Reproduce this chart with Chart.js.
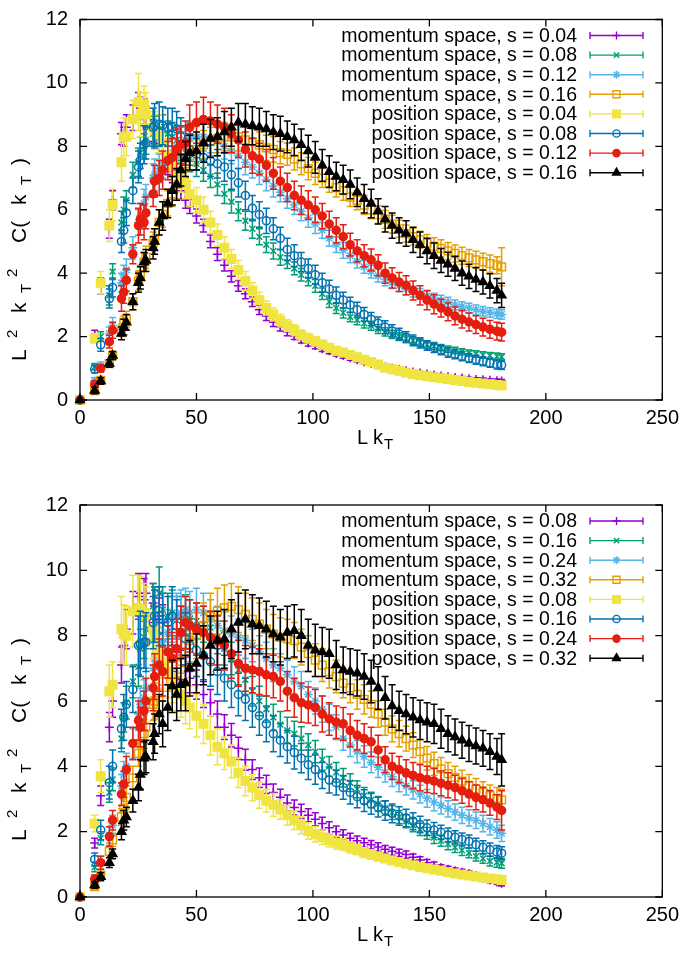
<!DOCTYPE html>
<html><head><meta charset="utf-8">
<script src="https://cdn.jsdelivr.net/npm/chart.js@4.4.0/dist/chart.umd.min.js"></script>
<style>
body{margin:0;background:#fff;width:685px;height:956px;position:relative;overflow:hidden}
.w{position:absolute;left:0;width:685px;height:478px}
</style></head><body>
<div class="w" style="top:0"><canvas id="c1" width="685" height="478"></canvas></div>
<div class="w" style="top:478px"><canvas id="c2" width="685" height="478"></canvas></div>
<script>
// ---- shared x positions (L kT) ----
const kT = [0,6.3,8.9,12.6,14.0,17.8,18.8,19.9,22.7,25.1,25.9,27.5,28.3,31.4,32.0,34.0,35.5,37.7,39.6,41.5,43.3,45.3,47.1,
 50,53,56,59,62,65,68,71,74,77,
 80,83,86,89,92,95,98,101,104,107,
 110,113,116,119,122,125,128,131,134,137,
 140,143,146,149,152,155,158,161,164,167,
 170,173,176,179,181];
const xTickValues = [0,50,100,150,200,250];
const yTickValues = [0,2,4,6,8,10,12];

const labels1 = ['momentum space, s = 0.04','momentum space, s = 0.08','momentum space, s = 0.12','momentum space, s = 0.16',
 'position space, s = 0.04','position space, s = 0.08','position space, s = 0.12','position space, s = 0.16'];
const labels2 = ['momentum space, s = 0.08','momentum space, s = 0.16','momentum space, s = 0.24','momentum space, s = 0.32',
 'position space, s = 0.08','position space, s = 0.16','position space, s = 0.24','position space, s = 0.32'];

// ---- panel 1 values ----
const mom04_p1 = [0,2.05,3.6,5.4,6.3,8.4,8.3,8.6,8.9,9.3,9.2,9.1,8.9,8.5,8.4,8.1,7.8,7.4,7.1,6.8,6.6,6.3,6.1,
 5.8,5.5,5.0,4.6,4.25,3.9,3.6,3.35,3.1,2.85, 2.65,2.45,2.3,2.15,2.02,1.9,1.8,1.72,1.62,1.55,
 1.47,1.4,1.33,1.27,1.21,1.16,1.1,1.04,1.0,0.96, 0.92,0.88,0.85,0.82,0.79,0.76,0.73,0.71,0.69,0.67, 0.65,0.64,0.62,0.61,0.6];
const mom08_p1 = [0,1.05,2.0,3.3,4.05,5.6,6.0,6.3,7.1,7.5,7.8,8.0,8.2,8.4,8.5,8.6,8.5,8.4,8.3,8.2,8.0,7.8,7.6,
 7.45,7.25,7.05,6.8,6.5,6.25,5.95,5.65,5.4,5.15, 4.9,4.7,4.5,4.35,4.15,3.95,3.8,3.6,3.35,3.1,
 2.9,2.75,2.62,2.52,2.42,2.34,2.24,2.15,2.07,2.0, 1.93,1.87,1.81,1.75,1.7,1.65,1.6,1.56,1.52,1.48, 1.45,1.42,1.4,1.38,1.36];
const mom12_p1 = [0,0.6,1.05,2.1,2.35,3.7,3.95,4.1,4.8,5.6,5.8,6.2,6.4,7.0,7.1,7.3,7.5,7.7,7.8,8.0,8.1,8.2,8.25,
 8.3,8.3,8.25,8.15,8.0,7.85,7.7,7.5,7.35,7.15, 6.95,6.75,6.55,6.35,6.15,5.95,5.75,5.55,5.35,5.1,
 4.9,4.72,4.55,4.38,4.2,4.05,3.92,3.8,3.7,3.6, 3.5,3.42,3.35,3.28,3.21,3.15,3.09,3.0,2.95,2.9, 2.85,2.8,2.76,2.72,2.7];
const mom16_p1 = [0,0.3,0.62,1.15,1.4,2.2,2.45,2.55,3.1,3.75,3.95,4.35,4.5,4.95,5.05,5.6,5.85,6.2,6.5,6.8,7.2,7.45,7.7,
 7.9,8.05,8.15,8.25,8.3,8.3,8.3,8.2,8.15,8.05, 7.95,7.9,7.8,7.75,7.6,7.45,7.3,7.15,7.0,6.85,
 6.7,6.6,6.4,6.3,6.15,6.0,5.85,5.7,5.55,5.4, 5.25,5.15,5.05,4.95,4.85,4.78,4.7,4.62,4.55,4.48, 4.42,4.36,4.3,4.25,4.2];
const pos04_p1 = [0,1.95,3.7,5.5,6.15,7.5,8.3,8.3,8.85,9.4,9.0,9.3,9.0,8.6,8.5,8.4,8.1,7.7,7.4,7.2,7.0,6.8,6.5,
 6.3,6.0,5.6,5.2,4.8,4.45,4.1,3.75,3.45,3.15, 2.9,2.7,2.5,2.35,2.2,2.05,1.95,1.85,1.75,1.65,
 1.55,1.5,1.42,1.35,1.27,1.2,1.12,1.02,0.97,0.92, 0.86,0.82,0.78,0.75,0.72,0.69,0.66,0.63,0.6,0.57, 0.54,0.52,0.5,0.47,0.46];
const pos08_p1 = [0,0.97,1.74,3.2,3.55,5.0,5.35,5.9,6.6,7.35,7.55,8.05,8.1,8.6,8.65,8.7,8.65,8.6,8.6,8.55,8.3,8.1,7.9,
 7.75,7.65,7.55,7.45,7.35,7.1,6.85,6.45,6.05,5.85, 5.65,5.4,5.1,4.75,4.55,4.35,4.15,3.95,3.7,3.5,
 3.3,3.15,3.0,2.85,2.7,2.55,2.42,2.3,2.18,2.08, 1.98,1.88,1.8,1.72,1.65,1.58,1.5,1.44,1.38,1.32, 1.27,1.22,1.17,1.12,1.1];
const pos12_p1 = [0,0.5,1.0,1.84,2.2,3.2,3.4,3.78,4.6,5.5,5.7,5.6,5.9,6.5,6.9,7.0,7.25,7.55,7.65,7.9,8.05,8.1,8.6,
 8.75,8.85,8.8,8.7,8.6,8.4,8.2,7.9,7.7,7.6, 7.4,7.15,6.9,6.7,6.45,6.3,6.15,6.0,5.8,5.55,
 5.35,5.15,4.9,4.7,4.55,4.42,4.25,4.0,3.85,3.72, 3.62,3.45,3.3,3.15,3.02,2.9,2.78,2.65,2.55,2.46, 2.38,2.3,2.23,2.17,2.14];
const pos16_p1 = [0,0.3,0.6,1.15,1.4,2.1,2.3,2.45,3.1,3.7,3.85,4.35,4.4,4.8,5.0,5.6,5.8,6.2,6.6,6.8,7.25,7.6,7.8,
 7.85,8.1,8.25,8.3,8.45,8.6,8.75,8.7,8.65,8.6, 8.55,8.45,8.4,8.3,8.2,8.05,7.85,7.65,7.4,7.2,
 7.05,6.95,6.8,6.55,6.35,6.2,5.95,5.7,5.5,5.35, 5.25,5.05,4.9,4.7,4.55,4.4,4.28,4.15,4.0,3.9, 3.8,3.72,3.6,3.45,3.3];

// ---- panel 1 error bars (half lengths) ----
const mom04_p1_err = [0,.15,.25,.3,.3,.35,.3,.4,.4,.4,.35,.4,.35,.35,.3,.3,.3,.3,.25,.25,.25,.25,.22,
 .22,.2,.2,.2,.18,.18,.17,.16,.15,.15, .14,.13,.12,.12,.11,.1,.1,.1,.09,.09,
 .08,.08,.08,.07,.07,.07,.07,.06,.06,.06, .06,.05,.05,.05,.05,.05,.05,.05,.05,.05, .05,.05,.05,.05,.05];
const mom08_p1_err = [0,.1,.15,.3,.25,.35,.4,.3,.4,.45,.5,.4,.45,.4,.45,.4,.5,.4,.45,.4,.45,.4,.4,
 .4,.35,.35,.35,.3,.35,.3,.3,.3,.25, .25,.25,.25,.2,.2,.2,.2,.2,.18,.18,
 .17,.16,.15,.15,.15,.14,.14,.13,.13,.12, .12,.12,.11,.11,.11,.1,.1,.1,.1,.1, .1,.1,.1,.1,.1];
const mom12_p1_err = [0,.1,.15,.2,.25,.3,.3,.35,.35,.4,.4,.45,.4,.45,.5,.45,.5,.5,.45,.5,.5,.45,.5,
 .5,.45,.45,.45,.4,.4,.4,.4,.35,.35, .35,.35,.3,.3,.3,.3,.3,.3,.25,.25,
 .25,.25,.22,.22,.2,.2,.2,.2,.18,.18, .18,.17,.17,.16,.16,.15,.15,.15,.15,.15, .15,.15,.15,.15,.15];
const mom16_p1_err = [0,.1,.1,.12,.15,.2,.2,.25,.25,.3,.3,.3,.35,.35,.35,.4,.4,.4,.4,.45,.45,.45,.45,
 .45,.45,.45,.45,.45,.4,.45,.4,.4,.4, .4,.4,.35,.35,.35,.35,.35,.35,.3,.3,
 .3,.3,.3,.3,.3,.28,.28,.28,.28,.27, .27,.27,.27,.27,.27,.27,.27,.27,.27,.27, .27,.27,.27,.27,.6];
const pos04_p1_err = [0,.15,.35,.5,.5,.6,.6,.6,.6,.9,.7,.6,.7,.6,.6,.6,.55,.55,.5,.5,.45,.45,.4,
 .4,.4,.35,.35,.35,.3,.3,.3,.25,.25, .22,.2,.2,.18,.17,.16,.15,.14,.13,.12,
 .12,.11,.1,.1,.1,.09,.09,.08,.08,.08, .07,.07,.07,.07,.06,.06,.06,.06,.06,.06, .06,.06,.06,.06,.06];
const pos08_p1_err = [0,.12,.2,.3,.3,.35,.4,.4,.4,.5,.55,.6,.5,.6,.7,.7,.6,.6,.6,.55,.6,.55,.5,
 .5,.5,.5,.45,.45,.45,.45,.45,.4,.4, .4,.35,.35,.35,.35,.3,.3,.3,.3,.28,
 .26,.25,.24,.23,.22,.21,.2,.2,.19,.18, .17,.17,.16,.15,.15,.15,.15,.14,.14,.14, .14,.14,.14,.14,.14];
const pos12_p1_err = [0,.1,.12,.2,.25,.4,.35,.35,.3,.55,.5,.55,.5,.4,.5,.55,.6,.6,.6,.65,.6,.7,.7,
 .65,.7,.6,.6,.6,.6,.55,.55,.55,.5, .5,.5,.45,.45,.45,.45,.45,.4,.4,.4,
 .4,.38,.36,.35,.35,.34,.33,.32,.32,.3, .3,.3,.3,.3,.3,.28,.28,.28,.28,.28, .28,.28,.28,.28,.28];
const pos16_p1_err = [0,.1,.1,.12,.12,.2,.25,.25,.25,.3,.35,.3,.35,.35,.4,.4,.45,.45,.45,.5,.5,.55,.55,
 .6,.6,.6,.6,.65,.6,.6,.65,.6,.6, .55,.55,.55,.5,.5,.5,.5,.5,.5,.5,
 .45,.45,.45,.45,.45,.45,.4,.4,.4,.4, .4,.4,.4,.4,.4,.38,.38,.38,.38,.38, .38,.38,.38,.38,.38];

// ---- panel 2 values ----
const mom08_p2 = [0,1.65,3.1,5.2,6.0,7.1,7.7,8.2,8.7,9.2,9.3,9.1,9.3,9.0,8.9,8.6,8.4,8.0,7.7,7.4,7.1,6.9,6.7,
 6.5,6.2,5.95,5.6,5.2,4.95,4.55,4.2,3.9,3.65, 3.45,3.2,3.05,2.88,2.74,2.62,2.5,2.38,2.25,2.12,
 2.0,1.9,1.8,1.72,1.66,1.6,1.53,1.46,1.4,1.35, 1.3,1.22,1.13,1.05,0.97,0.9,0.85,0.8,0.76,0.72, 0.65,0.58,0.52,0.46,0.42];
const mom16_p2 = [0,0.92,1.8,3.2,3.6,4.85,5.5,5.95,6.6,7.05,7.6,7.95,8.2,8.9,8.8,9.3,8.8,8.6,8.7,8.6,8.6,8.65,8.5,
 8.45,8.35,8.25,7.95,7.6,7.3,6.95,6.65,6.3,6.0, 5.75,5.5,5.28,5.1,5.0,4.85,4.65,4.45,4.2,4.0,
 3.82,3.65,3.5,3.3,3.1,2.97,2.85,2.72,2.58,2.45, 2.32,2.2,2.07,1.95,1.82,1.72,1.62,1.52,1.43,1.35, 1.25,1.18,1.1,1.06,1.03];
const mom24_p2 = [0,0.55,1.05,1.9,2.2,3.4,3.75,4.0,4.7,5.6,5.9,6.1,6.4,7.0,7.3,7.6,7.8,8.1,8.5,8.6,8.7,8.8,8.7,
 8.8,8.7,8.5,8.3,8.15,8.05,7.95,7.85,7.7,7.5, 7.3,7.1,7.0,6.8,6.6,6.45,6.2,6.0,5.75,5.5,
 5.2,4.85,4.65,4.45,4.3,4.12,3.97,3.82,3.68,3.52, 3.4,3.28,3.15,3.02,2.9,2.8,2.7,2.6,2.5,2.42, 2.35,2.25,2.15,2.05,1.95];
const mom32_p2 = [0,0.32,0.67,1.4,1.75,2.45,2.7,3.05,3.65,4.4,4.7,5.0,5.2,5.9,6.0,6.25,6.6,6.9,7.1,7.35,7.5,7.7,7.85,
 8.0,8.3,8.6,8.75,8.85,8.9,8.8,8.65,8.5,8.35, 8.2,8.05,7.95,7.9,7.85,7.65,7.45,7.25,7.1,6.9,
 6.75,6.55,6.4,6.2,6.05,5.9,5.6,5.35,5.15,5.0, 4.85,4.65,4.45,4.25,4.08,3.92,3.78,3.66,3.55,3.42, 3.3,3.2,3.1,3.02,2.97];
const pos08_p2 = [0,2.25,3.7,6.3,6.5,8.2,8.05,8.0,8.75,8.85,8.8,8.7,8.6,8.2,7.9,7.5,7.2,6.9,6.7,6.4,6.2,6.0,5.8,
 5.55,5.3,4.95,4.6,4.4,4.15,3.8,3.55,3.35,3.12, 2.95,2.82,2.68,2.5,2.35,2.2,2.02,1.92,1.83,1.74,
 1.66,1.6,1.52,1.45,1.36,1.3,1.24,1.18,1.12,1.07, 1.02,0.97,0.92,0.88,0.84,0.8,0.76,0.72,0.69,0.66, 0.63,0.6,0.57,0.54,0.52];
const pos16_p2 = [0,1.15,2.05,3.5,4.0,5.15,5.5,5.9,6.35,7.7,7.75,7.8,7.8,8.4,8.6,8.6,8.5,8.4,8.6,8.3,8.1,7.9,7.7,
 7.55,7.4,7.2,6.9,6.7,6.5,6.2,6.05,5.8,5.55, 5.3,5.0,4.8,4.6,4.42,4.25,4.05,3.9,3.72,3.58,
 3.5,3.35,3.2,3.07,2.95,2.85,2.75,2.65,2.56,2.48, 2.42,2.32,2.22,2.12,2.05,1.98,1.9,1.83,1.76,1.7, 1.6,1.52,1.45,1.38,1.34];
const pos24_p2 = [0,0.55,1.05,1.85,2.35,3.15,3.45,3.9,4.7,5.4,5.2,5.7,6.0,6.4,6.75,7.1,6.9,7.5,7.3,7.6,8.1,8.4,8.3,
 8.2,8.1,7.95,7.85,7.7,7.45,7.15,7.0,6.95,6.9, 6.8,6.75,6.6,6.3,6.1,5.95,5.88,5.8,5.6,5.45,
 5.35,5.3,5.1,4.95,4.85,4.75,4.5,4.2,4.0,3.9, 3.8,3.72,3.65,3.6,3.55,3.48,3.42,3.35,3.25,3.15, 3.05,2.98,2.88,2.75,2.65];
const pos32_p2 = [0,0.37,0.62,1.05,1.32,2.0,2.35,2.45,2.95,3.35,3.75,4.25,4.3,4.75,5.0,5.6,5.3,5.8,6.45,6.2,6.5,6.55,7.0,
 7.15,7.4,7.7,7.85,7.9,8.2,8.4,8.5,8.35,8.3, 8.2,8.05,7.95,8.1,8.15,8.0,7.7,7.55,7.5,7.45,
 7.1,6.95,6.9,6.85,6.75,6.6,6.4,6.1,5.85,5.7, 5.6,5.5,5.42,5.35,5.3,5.15,5.0,4.9,4.8,4.7, 4.62,4.55,4.45,4.3,4.2];

// ---- panel 2 error bars ----
const mom08_p2_err = [0,.15,.3,.45,.5,.55,.6,.6,.65,.7,.6,.65,.6,.6,.6,.55,.55,.5,.5,.5,.45,.45,.45,
 .45,.4,.4,.4,.38,.36,.34,.32,.3,.3, .28,.26,.25,.24,.23,.22,.2,.2,.19,.18,
 .17,.16,.15,.15,.14,.13,.13,.12,.12,.11, .11,.1,.1,.1,.1,.09,.09,.09,.09,.08, .08,.08,.08,.08,.08];
const mom16_p2_err = [0,.15,.2,.3,.35,.4,.45,.5,.5,.6,.6,.65,.6,.7,.7,.8,.7,.7,.7,.6,.6,.6,.6,
 .55,.55,.5,.5,.5,.5,.45,.45,.45,.45, .4,.4,.4,.4,.38,.36,.35,.34,.32,.3,
 .3,.28,.27,.26,.25,.24,.23,.22,.21,.2, .2,.2,.19,.18,.18,.17,.17,.16,.16,.15, .15,.15,.15,.15,.15];
const mom24_p2_err = [0,.1,.2,.25,.3,.35,.4,.4,.45,.5,.5,.55,.6,.6,.65,.65,.7,.7,.7,.7,.7,.65,.65,
 .65,.6,.6,.6,.6,.55,.55,.55,.5,.5, .5,.5,.45,.45,.45,.45,.4,.4,.4,.4,
 .38,.36,.35,.34,.33,.32,.31,.3,.3,.3, .28,.28,.27,.27,.26,.26,.25,.25,.25,.25, .25,.25,.25,.25,.25];
const mom32_p2_err = [0,.1,.12,.18,.2,.25,.3,.35,.35,.4,.45,.45,.5,.5,.55,.55,.6,.6,.6,.6,.65,.65,.65,
 .7,.7,.7,.7,.7,.7,.7,.65,.65,.65, .6,.6,.6,.6,.55,.55,.55,.5,.5,.5,
 .5,.45,.45,.45,.45,.4,.4,.4,.4,.4, .38,.38,.36,.36,.35,.35,.34,.34,.33,.33, .33,.33,.33,.33,.33];
const pos08_p2_err = [0,.25,.5,.8,.7,1.0,.9,.9,1.1,1.0,1.0,.9,.9,.9,.85,.8,.8,.8,.75,.7,.7,.7,.65,
 .65,.6,.6,.55,.5,.5,.45,.45,.4,.4, .35,.35,.3,.3,.28,.26,.25,.24,.22,.2,
 .2,.18,.17,.16,.15,.14,.13,.12,.12,.11, .1,.1,.1,.09,.09,.09,.08,.08,.08,.08, .08,.08,.08,.08,.08];
const pos16_p2_err = [0,.2,.3,.5,.5,.6,.7,.7,.7,.9,1.0,.8,.9,.8,.8,.9,.8,.8,.9,.8,.8,.8,.8,
 .8,.75,.75,.7,.7,.7,.65,.65,.6,.6, .55,.55,.5,.5,.5,.45,.45,.45,.4,.4,
 .38,.36,.35,.34,.33,.32,.3,.3,.29,.28, .27,.26,.25,.24,.23,.22,.21,.2,.2,.2, .2,.2,.2,.2,.2];
const pos24_p2_err = [0,.12,.2,.3,.3,.35,.4,.4,.5,.6,.6,.6,.7,.7,.7,.8,.75,.8,.8,.9,.8,.8,.8,
 .8,.8,.8,.75,.75,.75,.7,.7,.7,.7, .65,.65,.6,.6,.6,.6,.55,.55,.55,.5,
 .5,.5,.5,.45,.45,.45,.45,.4,.4,.4, .4,.4,.4,.4,.38,.38,.38,.38,.38,.38, .38,.38,.38,.38,.6];
const pos32_p2_err = [0,.1,.12,.15,.15,.25,.3,.3,.35,.4,.45,.5,.5,.55,.6,.6,.7,.7,.8,.8,.8,.85,.85,
 .9,.9,.9,.9,.9,.9,.9,.9,.9,.85, .85,.85,.85,.8,.8,.8,.8,.8,.75,.75,
 .75,.7,.7,.7,.7,.65,.65,.65,.65,.6, .6,.6,.6,.6,.6,.6,.55,.55,.55,.55, .55,.55,.55,.55,.8];

// ---- styles ----
const FONT = '"Liberation Sans", Arial, Helvetica, sans-serif';
const COLORS = ['#9400d3','#009e73','#56b4e9','#e69f00','#f0e442','#0072b2','#e51e10','#000000'];
const MARKERS = [
 {ps:'cross', r:4.5, fill:false},
 {ps:'crossRot', r:4.2, fill:false},
 {ps:'star', r:4.5, fill:false},
 {ps:'rect', r:5.5, fill:false},
 {ps:'rect', r:6, fill:true},
 {ps:'circle', r:4, fill:false},
 {ps:'circle', r:4, fill:true},
 {ps:'triangle', r:5, fill:true}
];

// parts: [text, fontSize, offsetAlongText, baselineShift]
function drawRich(ctx, parts) {
  parts.forEach(p => {
    ctx.font = p[1] + 'px ' + FONT;
    ctx.fillText(p[0], p[2], p[3]);
  });
}

function drawMarker(ctx, m, color, x, y) {
  ctx.save();
  ctx.strokeStyle = color; ctx.fillStyle = m.fill ? color : 'rgba(0,0,0,0)'; ctx.lineWidth = 1.4;
  if (Chart.helpers && Chart.helpers.drawPoint) {
    Chart.helpers.drawPoint(ctx, {pointStyle: m.ps, radius: m.r * 0.9, borderWidth: 1.4, rotation: 0}, x, y);
  }
  ctx.restore();
}

const errorBars = {
  id: 'errorBars',
  beforeDatasetDraw(chart, args) {
    const ds = chart.data.datasets[args.index];
    const xs = chart.scales.x, ys = chart.scales.y, ctx = chart.ctx;
    ctx.save();
    ctx.strokeStyle = ds.borderColor; ctx.lineWidth = 1.5;
    ctx.beginPath();
    ds.data.forEach((p, j) => {
      const e = ds.errs[j]; if (!e) return;
      const px = xs.getPixelForValue(p.x);
      const y1 = ys.getPixelForValue(p.y - e), y2 = ys.getPixelForValue(p.y + e);
      ctx.moveTo(px, y1); ctx.lineTo(px, y2);
      ctx.moveTo(px - 3.5, y1); ctx.lineTo(px + 3.5, y1);
      ctx.moveTo(px - 3.5, y2); ctx.lineTo(px + 3.5, y2);
    });
    ctx.stroke();
    ctx.restore();
  }
};

const frame = {
  id: 'frame',
  beforeDatasetsDraw(chart, args, o) {
    const ctx = chart.ctx, a = chart.chartArea;
    ctx.save();
    o.labels.forEach((t, i) => {
      const yy = a.top + 16 + i * 19.6;
      ctx.font = '19.5px ' + FONT; ctx.fillStyle = '#000'; ctx.textAlign = 'right'; ctx.textBaseline = 'middle';
      ctx.fillText(t, 577, yy + 1);
      ctx.strokeStyle = COLORS[i]; ctx.lineWidth = 1.4;
      ctx.beginPath();
      ctx.moveTo(590, yy); ctx.lineTo(643, yy);
      ctx.moveTo(590, yy - 3.5); ctx.lineTo(590, yy + 3.5);
      ctx.moveTo(643, yy - 3.5); ctx.lineTo(643, yy + 3.5);
      ctx.stroke();
      drawMarker(ctx, MARKERS[i], COLORS[i], 616.5, yy);
    });
    ctx.restore();
  },
  afterDraw(chart, args, o) {
    const ctx = chart.ctx, a = chart.chartArea, x = chart.scales.x, y = chart.scales.y;
    ctx.save();
    ctx.strokeStyle = '#000'; ctx.lineWidth = 1.3;
    ctx.strokeRect(a.left, a.top, a.right - a.left, a.bottom - a.top);
    ctx.beginPath();
    x.ticks.forEach(t => { const px = x.getPixelForValue(t.value);
      ctx.moveTo(px, a.bottom); ctx.lineTo(px, a.bottom - 7); ctx.moveTo(px, a.top); ctx.lineTo(px, a.top + 7); });
    y.ticks.forEach(t => { const py = y.getPixelForValue(t.value);
      ctx.moveTo(a.left, py); ctx.lineTo(a.left + 7, py); ctx.moveTo(a.right, py); ctx.lineTo(a.right - 7, py); });
    ctx.stroke();
    ctx.fillStyle = '#000'; ctx.textAlign = 'left'; ctx.textBaseline = 'alphabetic';
    // x title  "L kT"
    ctx.save(); ctx.translate(o.xTitle[0], o.xTitle[1]);
    drawRich(ctx, [['L', 20, 0, 0], ['k', 20, 16, 0], ['T', 15, 27, 5]]);
    ctx.restore();
    // y title  "L^2 kT^2 C( kT )"
    ctx.save(); ctx.translate(o.yTitle[0], o.yTitle[1]); ctx.rotate(-Math.PI / 2);
    drawRich(ctx, [['L', 21, 0, 0], ['2', 15, 23, -9], ['k', 21, 48, 0], ['T', 15, 68, 5], ['2', 15, 84, -9],
      ['C(', 21, 118, 0], ['k', 21, 156, 0], ['T', 15, 176, 5], [')', 21, 196, 0]]);
    ctx.restore();
    ctx.restore();
  }
};

function makeChart(id, labels, vals, errs, top, xh, xTitle, yTitle) {
  const datasets = labels.map((lab, i) => ({
    label: lab,
    data: kT.map((xv, j) => ({x: xv, y: vals[i][j]})),
    errs: errs[i],
    borderColor: COLORS[i],
    backgroundColor: MARKERS[i].fill ? COLORS[i] : 'rgba(0,0,0,0)',
    pointStyle: MARKERS[i].ps,
    pointRadius: MARKERS[i].r,
    pointBorderWidth: 1.5,
    showLine: false,
    clip: false,
    order: 7 - i
  }));
  return new Chart(document.getElementById(id), {
    type: 'scatter',
    data: {datasets},
    plugins: [errorBars, frame],
    options: {
      responsive: false, animation: false, events: [],
      layout: {padding: {left: 0, right: 19, top: top, bottom: 0}},
      plugins: {legend: {display: false}, tooltip: {enabled: false},
        frame: {labels, xTitle, yTitle}},
      scales: {
        x: {type: 'linear', min: xTickValues[0], max: xTickValues[xTickValues.length - 1],
          afterBuildTicks: s => { s.ticks = xTickValues.map(v => ({value: v})); },
          ticks: {color: '#000', font: {family: FONT, size: 20}, padding: 6, maxRotation: 0, autoSkip: false},
          grid: {display: false, drawTicks: false}, border: {display: false},
          afterFit: s => { s.height = xh; }},
        y: {type: 'linear', min: yTickValues[0], max: yTickValues[yTickValues.length - 1],
          afterBuildTicks: s => { s.ticks = yTickValues.map(v => ({value: v})); },
          ticks: {color: '#000', font: {family: FONT, size: 20, lineHeight: 0.75}, padding: 12, autoSkip: false},
          grid: {display: false, drawTicks: false}, border: {display: false},
          afterFit: s => { s.width = 80; }}
      }
    }
  });
}

makeChart('c1', labels1,
  [mom04_p1, mom08_p1, mom12_p1, mom16_p1, pos04_p1, pos08_p1, pos12_p1, pos16_p1],
  [mom04_p1_err, mom08_p1_err, mom12_p1_err, mom16_p1_err, pos04_p1_err, pos08_p1_err, pos12_p1_err, pos16_p1_err],
  8, 78, [357, 444], [26, 361]);
makeChart('c2', labels2,
  [mom08_p2, mom16_p2, mom24_p2, mom32_p2, pos08_p2, pos16_p2, pos24_p2, pos32_p2],
  [mom08_p2_err, mom16_p2_err, mom24_p2_err, mom32_p2_err, pos08_p2_err, pos16_p2_err, pos24_p2_err, pos32_p2_err],
  27, 59, [357, 463], [26, 363]);
</script>
</body></html>
